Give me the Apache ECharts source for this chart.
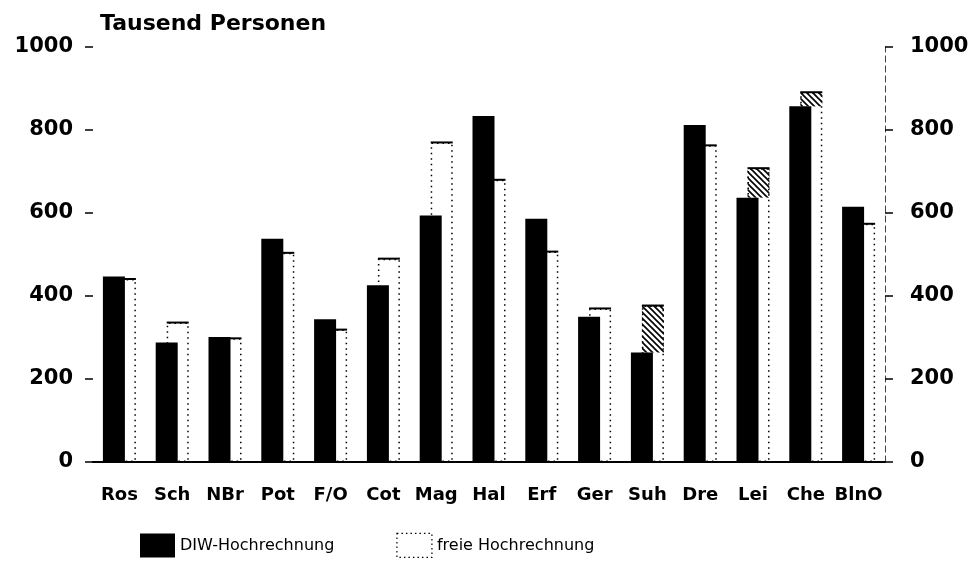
<!DOCTYPE html>
<html>
<head>
<meta charset="utf-8">
<script src="https://cdn.jsdelivr.net/npm/echarts@6/dist/echarts.min.js"></script>
<style>html,body{margin:0;padding:0;background:#fff}#c{width:979px;height:585px}</style>
</head>
<body>
<div id="c"></div>
<script>
const categories = ['Ros','Sch','NBr','Pot','F/O','Cot','Mag','Hal','Erf','Ger','Suh','Dre','Lei','Che','BlnO'];
const diwValues  = [447, 288, 301, 538, 344, 426, 594, 834, 586, 350, 264, 812, 637, 857, 615];
const freeValues = [441, 336, 298, 504, 319, 490, 770, 680, 507, 370, 377, 763, 708, 891, 574];
const hatchedCats = ['Suh','Lei','Che'];
const yTicks = [0, 200, 400, 600, 800, 1000];

const FONT = 'DejaVu Sans';
const BAR_W = 22;

// hatch pattern
const pc = document.createElement('canvas');
pc.width = 6; pc.height = 6;
const pctx = pc.getContext('2d');
pctx.fillStyle = '#fff'; pctx.fillRect(0,0,6,6);
pctx.strokeStyle = '#000'; pctx.lineWidth = 1.6;
pctx.beginPath();
pctx.moveTo(-1,-1); pctx.lineTo(7,7);
pctx.moveTo(-4,2); pctx.lineTo(4,10);
pctx.moveTo(2,-4); pctx.lineTo(10,4);
pctx.stroke();

const chart = echarts.init(document.getElementById('c'), null, {renderer:'canvas'});

const overlayData = categories.map((c, i) => [i, freeValues[i], diwValues[i], hatchedCats.indexOf(c) >= 0 ? 1 : 0]);

const yAxisBase = {
  type: 'value', min: yTicks[0], max: yTicks[yTicks.length-1], interval: 200,
  splitLine: {show: false},
  axisTick: {show: true, inside: false, length: 8, lineStyle: {color: '#000', width: 1.5}},
  axisLabel: {color: '#000', fontFamily: FONT, fontWeight: 'bold', fontSize: 21,
    formatter: function (v) { return String(v); }}
};

chart.setOption({
  animation: false,
  backgroundColor: '#fff',
  title: {
    text: 'Tausend Personen', left: 95, top: 8,
    textStyle: {fontFamily: FONT, fontWeight: 'bold', fontSize: 22, color: '#000'}
  },
  legend: {
    bottom: 22, left: 135, itemWidth: 35, itemHeight: 24, itemGap: 62,
    icon: 'rect',
    textStyle: {fontFamily: FONT, fontSize: 16, color: '#000'},
    data: [
      {name: 'DIW-Hochrechnung'},
      {name: 'freie Hochrechnung', itemStyle: {color: '#fff', borderColor: '#000', borderWidth: 1.2, borderType: [1.5, 3]}}
    ]
  },
  grid: {left: 93, right: 94, top: 47, bottom: 123, containLabel: false},
  xAxis: [{
    type: 'category', data: categories, boundaryGap: true,
    axisLine: {show: true, lineStyle: {color: '#000', width: 2}},
    axisTick: {show: false},
    axisLabel: {color: '#000', fontFamily: FONT, fontWeight: 'bold', fontSize: 18, margin: 24, interval: 0}
  }, {
    type: 'category', data: categories, position: 'top',
    axisLine: {show: true, lineStyle: {color: '#000', width: 1.5}},
    axisTick: {show: false}, axisLabel: {show: false}
  }],
  yAxis: [
    Object.assign({}, yAxisBase, {
      position: 'left', axisLine: {show: false},
      axisLabel: Object.assign({}, yAxisBase.axisLabel, {margin: 20})
    }),
    Object.assign({}, yAxisBase, {
      position: 'right',
      axisLine: {show: true, lineStyle: {color: '#444', width: 1, type: [6, 4]}},
      axisLabel: Object.assign({}, yAxisBase.axisLabel, {margin: 25})
    })
  ],
  series: [
    {
      name: 'DIW-Hochrechnung', type: 'bar', data: diwValues,
      barWidth: BAR_W, barGap: '-50%', z: 3,
      itemStyle: {color: '#000'}
    },
    {
      name: 'freie Hochrechnung', type: 'bar', data: freeValues,
      barWidth: BAR_W, z: 2,
      itemStyle: {color: 'rgba(255,255,255,0)', borderColor: '#000', borderWidth: 1.5, borderType: [1.5, 4]}
    },
    {
      type: 'custom', z: 2, silent: true,
      data: overlayData,
      encode: {x: 0, y: 1},
      renderItem: function (params, api) {
        const i = api.value(0), free = api.value(1), diw = api.value(2), hatch = api.value(3);
        const base = api.coord([i, 0]);
        const cx = base[0] + BAR_W * 0.25;
        const yTop = api.coord([i, free])[1];
        const yD = api.coord([i, diw])[1];
        const children = [];
        if (hatch && free > diw) {
          children.push({
            type: 'rect',
            shape: {x: cx - BAR_W/2, y: yTop, width: BAR_W, height: yD - yTop},
            style: {fill: {image: pc, repeat: 'repeat'}, stroke: null}
          });
        }
        children.push({
          type: 'line',
          shape: {x1: cx - BAR_W/2, y1: yTop, x2: cx + BAR_W/2, y2: yTop},
          style: {stroke: '#000', lineWidth: 2}
        });
        return {type: 'group', children: children};
      }
    }
  ]
});
</script>
</body>
</html>
